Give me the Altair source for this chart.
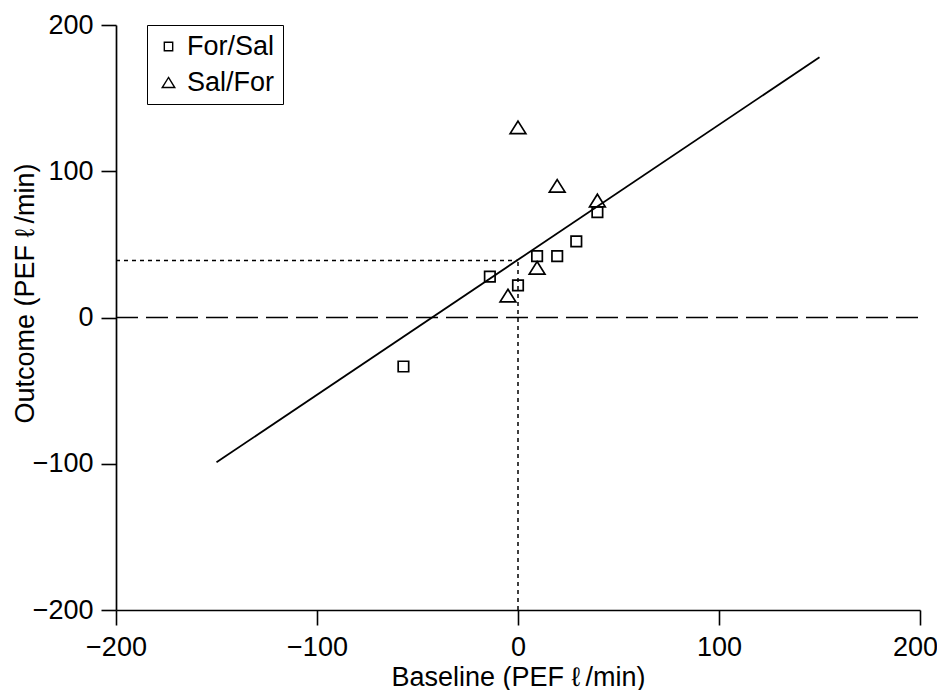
import altair as alt
import pandas as pd

# --- data ---
groups = ["For/Sal"] * 7 + ["Sal/For"] * 5
baseline = [-57, -14, 0, 9.5, 19.5, 29, 39.5, 0, 19.5, 39.5, 9.5, -5]
outcome = [-33.5, 28, 22, 42, 42, 52, 72, 130, 90, 80, 34, 15]

fit_x = [-150, 150]
fit_y = [-99, 178]

ref_x0 = 0      # baseline of interest
ref_y0 = 39     # predicted outcome at baseline 0

ticks = [-200, -100, 0, 100, 200]
series = ["For/Sal", "Sal/For"]

FONT = "Liberation Sans"
FS = 27

pts = pd.DataFrame({"Baseline": baseline, "Outcome": outcome, "Group": groups})
fit = pd.DataFrame({"Baseline": fit_x, "Outcome": fit_y})
zero = pd.DataFrame({"x": [-200], "x2": [200], "y": [0]})
hdot = pd.DataFrame({"x": [-200], "x2": [ref_x0], "y": [ref_y0]})
vdot = pd.DataFrame({"x": [ref_x0], "y": [-200], "y2": [ref_y0]})

xs = alt.Scale(domain=[-200, 200], nice=False, zero=False)
ys = alt.Scale(domain=[-200, 200], nice=False, zero=False)

xax = alt.Axis(
    values=ticks, title="Baseline (PEF \u2113\u2009/min)", grid=False,
    labelPadding=9, titleBaseline="alphabetic", titleX=402, titleY=75,
    labelOffset=alt.condition("datum.value == 200", alt.value(-5), alt.value(0)),
)
yax = alt.Axis(values=ticks, title="Outcome (PEF \u2113\u2009/min)", grid=False,
               labelPadding=8, titleBaseline="alphabetic", titleAngle=270,
               titleX=-83, titleY=268)

zero_rule = alt.Chart(zero).mark_rule(color="black", strokeWidth=1.5, strokeDash=[22, 8]).encode(
    x=alt.X("x:Q", scale=xs, axis=xax), x2="x2", y=alt.Y("y:Q", scale=ys, axis=yax)
)
h_rule = alt.Chart(hdot).mark_rule(color="black", strokeWidth=1.5, strokeDash=[4, 4]).encode(
    x=alt.X("x:Q", scale=xs), x2="x2", y=alt.Y("y:Q", scale=ys)
)
v_rule = alt.Chart(vdot).mark_rule(color="black", strokeWidth=1.5, strokeDash=[4, 4]).encode(
    x=alt.X("x:Q", scale=xs), y=alt.Y("y:Q", scale=ys), y2="y2"
)
fit_line = alt.Chart(fit).mark_line(color="black", strokeWidth=1.8).encode(
    x=alt.X("Baseline:Q", scale=xs), y=alt.Y("Outcome:Q", scale=ys)
)
points = alt.Chart(pts).mark_point(filled=False, color="black", strokeWidth=1.7, opacity=1).encode(
    x=alt.X("Baseline:Q", scale=xs),
    y=alt.Y("Outcome:Q", scale=ys),
    shape=alt.Shape(
        "Group:N",
        scale=alt.Scale(domain=series, range=["square", "M0,-1.2L1.5,1.2L-1.5,1.2Z"]),
        legend=alt.Legend(
            title=None,
            orient="none",
            legendX=31,
            legendY=0,
            strokeColor="black",
            fillColor="white",
            padding=8,
            labelFontSize=FS,
            labelFont=FONT,
            labelColor="black",
            symbolSize=70,
            symbolStrokeColor="black",
            symbolStrokeWidth=1.4,
            symbolOffset=0,
            rowPadding=8,
            labelOffset=5,
        ),
    ),
    size=alt.value(110),
)

chart = (
    alt.layer(zero_rule, h_rule, v_rule, fit_line, points)
    .properties(
        width=804,
        height=585,
        autosize=alt.AutoSizeParams(type="none"),
        padding={"left": 108, "top": 17, "right": 17, "bottom": 80},
    )
    .configure_view(stroke=None)
    .configure_axis(
        domainColor="black",
        domainWidth=1.7,
        tickColor="black",
        tickWidth=1.6,
        tickSize=15,
        labelFont=FONT,
        labelFontSize=FS,
        labelColor="black",
        labelFlush=False,
        titleFont=FONT,
        titleFontSize=FS,
        titleFontWeight="normal",
        titleColor="black",
    )
)

chart.save("out.html", embed_options={"renderer": "svg", "actions": False})
